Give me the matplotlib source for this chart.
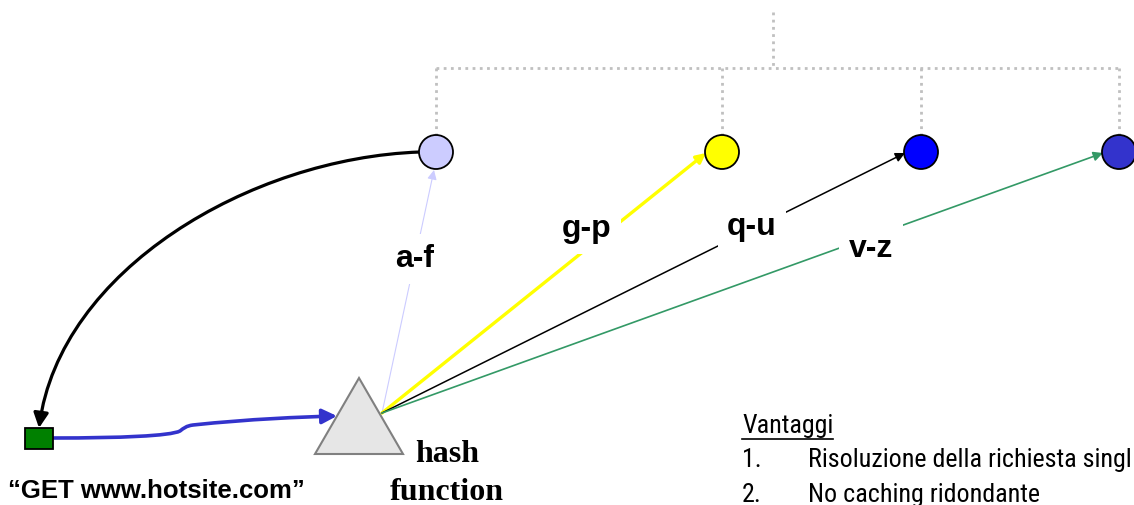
import matplotlib.pyplot as plt
from matplotlib import font_manager
from matplotlib.patches import Circle, Polygon, Rectangle, FancyArrowPatch
from matplotlib.path import Path

W, H = 1134, 505

# ring nodes (pixel coords, y grows downward)
node_x = [436, 722, 921, 1119]
node_y = 152
node_colors = ['#ccccff', '#ffff00', '#0000ff', '#3333cc']
node_r = 17

# hash ranges -> node
ranges = ['a-f', 'g-p', 'q-u', 'v-z']
range_pos = [(415, 267), (587, 237), (752, 235), (871, 257)]
hash_colors = ['#ccccff', '#ffff00', '#000000', '#339966']
hash_widths = [0.8, 2.4, 1.1, 1.2]
hash_tips = [(434, 170), (706, 153), (905, 153), (1103, 153)]
hash_origin = (382, 413)

tree_top = (773, 12)
tree_y = 68

triangle = [(359, 378), (315, 454), (403, 454)]
client_box = (25, 428, 28, 21)

return_path = [(420, 152), (250, 158), (60, 270), (39, 428)]
request_path = [(54, 438), (120, 438), (170, 436), (180, 431),
                (184, 428), (186, 426), (193, 425),
                (250, 419), (300, 417), (337, 416)]

request_text = '\u201cGET www.hotsite.com\u201d'
hash_label = ['hash', 'function']
pros_title = 'Vantaggi'
pros = ['Risoluzione della richiesta singl', 'No caching ridondante']

installed = {f.name for f in font_manager.fontManager.ttflist}
pros_font, pros_size = 'Liberation Sans', 17
for name in ['Liberation Sans Narrow', 'Roboto Condensed', 'Archivo Narrow', 'PT Sans Narrow']:
    if name in installed:
        pros_font, pros_size = name, 21
        break

fig = plt.figure(figsize=(W / 100, H / 100), dpi=100)
ax = fig.add_axes([0, 0, 1, 1])
ax.set_xlim(0, W)
ax.set_ylim(H, 0)
ax.axis('off')

# dotted tree on top
dot = dict(color='#c0c0c0', lw=2, linestyle=(0, (1, 1.6)), zorder=1)
ax.plot([tree_top[0], tree_top[0]], [tree_top[1], tree_y], **dot)
ax.plot([node_x[0], node_x[-1]], [tree_y, tree_y], **dot)
for x in node_x:
    ax.plot([x, x], [tree_y, node_y - node_r], **dot)

for x, c in zip(node_x, node_colors):
    ax.add_patch(Circle((x, node_y), node_r, facecolor=c, edgecolor='black', lw=1.3, zorder=4))

# hash lines
for tip, c, w in zip(hash_tips, hash_colors, hash_widths):
    ax.add_patch(FancyArrowPatch(hash_origin, tip, arrowstyle='-|>', mutation_scale=14,
                                 color=c, lw=w, shrinkA=0, shrinkB=0, zorder=2))

for txt, (x, y) in zip(ranges, range_pos):
    ax.text(x, y, txt, ha='center', va='baseline', fontsize=23, fontweight='bold',
            family='Liberation Sans', zorder=3,
            bbox=dict(boxstyle='square,pad=0.3', fc='white', ec='none'))

ax.add_patch(Polygon(triangle, closed=True, facecolor='#e6e6e6', edgecolor='#808080', lw=1.5, zorder=5))

ax.add_patch(Rectangle(client_box[:2], client_box[2], client_box[3],
                       facecolor='#008000', edgecolor='black', lw=1.3, zorder=5))

# curved arrows
ret = Path(return_path, [Path.MOVETO, Path.CURVE4, Path.CURVE4, Path.CURVE4])
ax.add_patch(FancyArrowPatch(path=ret, arrowstyle='-|>', mutation_scale=22,
                             color='black', lw=2.3, zorder=3))
req = Path(request_path, [Path.MOVETO] + [Path.CURVE4] * 9)
ax.add_patch(FancyArrowPatch(path=req, arrowstyle='-|>', mutation_scale=22,
                             color='#3333cc', lw=2.6, zorder=3))

ax.text(156, 498, request_text, ha='center', va='baseline', fontsize=18.5,
        fontweight='bold', family='Liberation Sans')
ax.text(447, 462, hash_label[0], ha='center', va='baseline', fontsize=23,
        fontweight='bold', family='Liberation Serif')
ax.text(447, 500, hash_label[1], ha='center', va='baseline', fontsize=23,
        fontweight='bold', family='Liberation Serif')

t = ax.text(742, 433, pros_title, ha='left', va='baseline', fontsize=pros_size, family=pros_font)
items = []
for i, (item, y) in enumerate(zip(pros, [467, 502])):
    ax.text(742, y, f'{i + 1}.', ha='left', va='baseline', fontsize=pros_size, family=pros_font)
    items.append(ax.text(808, y, item, ha='left', va='baseline', fontsize=pros_size, family=pros_font))

# shrink the list font if the first item runs past the right edge
fig.canvas.draw()
bb = items[0].get_window_extent()
if bb.x1 > W - 2:
    scale = (W - 2 - bb.x0) / bb.width
    for txt in ax.texts[-5:]:
        txt.set_fontsize(txt.get_fontsize() * scale)
    fig.canvas.draw()

# underline for the title
bb = t.get_window_extent().transformed(ax.transData.inverted())
ax.plot([bb.x0, bb.x1], [439, 439], color='black', lw=1.2)

fig.savefig('out.png', dpi=100)
